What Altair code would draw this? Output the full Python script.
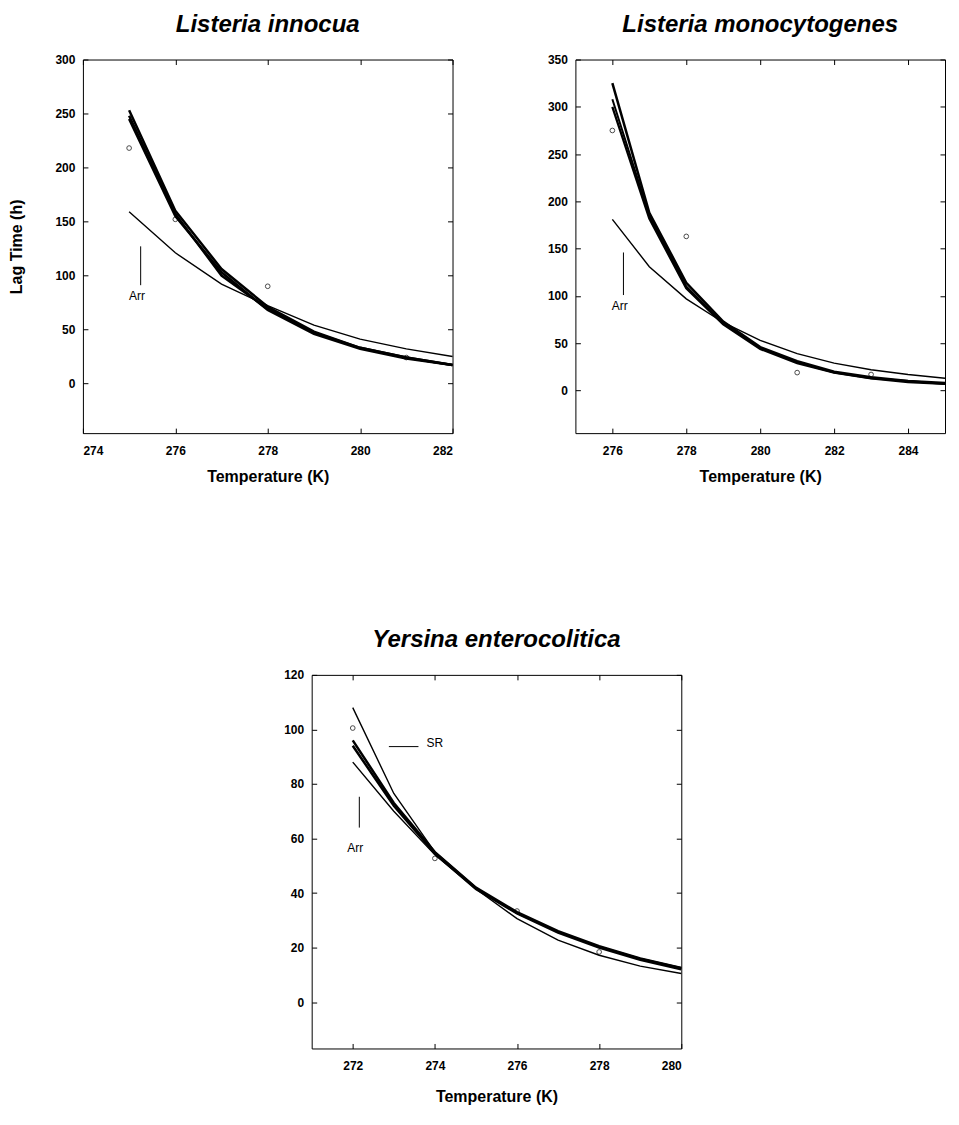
import altair as alt
import pandas as pd

FONT = "Liberation Sans"

# ---------------- Listeria innocua ----------------
LI_T = [275, 276, 277, 278, 279, 280, 281, 282]
LI_M1 = [253, 160, 106, 71, 48, 33, 24, 17]
LI_M2 = [248, 157, 100, 69, 47, 33, 24, 17]
LI_M3 = [245, 155, 103, 68, 46, 32, 23, 17]
LI_ARR = [159, 121, 92, 72, 54, 41, 32, 25]
LI_OBS_T = [275, 276, 278, 281]
LI_OBS = [218, 152, 90, 24]

# ---------------- Listeria monocytogenes ----------------
LM_T = [276, 277, 278, 279, 280, 281, 282, 283, 284, 285]
LM_M1 = [325, 188, 114, 73, 46, 31, 20, 14, 10, 8]
LM_M2 = [308, 185, 110, 71, 45, 30, 19, 13, 10, 7]
LM_M3 = [300, 182, 108, 70, 44, 29, 19, 13, 9, 7]
LM_ARR = [181, 131, 97, 72, 53, 39, 29, 22, 17, 13]
LM_OBS_T = [276, 278, 281, 283]
LM_OBS = [275, 163, 19, 17]

# ---------------- Yersina enterocolitica ----------------
YE_T = [272, 273, 274, 275, 276, 277, 278, 279, 280]
YE_SR = [108, 76.5, 55, 42, 32.5, 25.7, 20.4, 16, 12.6]
YE_M1 = [96, 73, 55, 42, 33, 26, 20.5, 16, 12.5]
YE_M2 = [94, 72, 54.5, 41.5, 32.5, 25.5, 20, 15.5, 12]
YE_ARR = [88, 70, 54, 41.5, 30.6, 22.7, 17.2, 13.2, 10.5]
YE_OBS_T = [272, 274, 276, 278]
YE_OBS = [100.5, 52.7, 33.4, 18.4]


def lines_df(t, series):
    rows = []
    for name, vals, w in series:
        for ti, v in zip(t, vals):
            rows.append({"T": ti, "lag": v, "s": name, "w": w})
    return pd.DataFrame(rows)


def panel(title, ldf, obs_t, obs, xdom, ydom, xticks, yticks, ytitle, rules, texts, xtitle_pad):
    xs = alt.Scale(domain=xdom, nice=False, zero=False)
    ys = alt.Scale(domain=ydom, nice=False, zero=False)
    lab = dict(labelFont=FONT, labelFontSize=12, labelFontWeight="bold", labelColor="black",
               titleFont=FONT, titleFontSize=16, titleFontWeight="bold", titleColor="black",
               domain=False, tickColor="black", tickSize=5, grid=False, offset=-5)
    xaxis = alt.Axis(values=xticks, title="Temperature (K)", titlePadding=xtitle_pad,
                     labelPadding=12, **lab)
    if ytitle:
        yaxis = alt.Axis(values=yticks, title=ytitle, titlePadding=30, labelPadding=8, **lab)
    else:
        yaxis = alt.Axis(values=yticks, title=None, labelPadding=8, **lab)
    base = alt.Chart(ldf).mark_line(color="black").encode(
        x=alt.X("T:Q", scale=xs, axis=xaxis),
        y=alt.Y("lag:Q", scale=ys, axis=yaxis),
        detail="s:N",
        strokeWidth=alt.StrokeWidth("w:Q", scale=None),
    )
    inner = dict(domain=False, labels=False, title=None, tickSize=5, tickColor="black",
                 grid=False, offset=-5)
    pts = alt.Chart(pd.DataFrame({"T": obs_t, "lag": obs})).mark_point(
        shape="circle", filled=False, color="black", size=22, strokeWidth=1
    ).encode(
        x=alt.X("T:Q", scale=xs, axis=alt.Axis(orient="top", values=xticks, **inner)),
        y=alt.Y("lag:Q", scale=ys, axis=alt.Axis(orient="right", values=yticks, **inner)),
    )
    layers = [base, pts]
    if rules:
        rdf = pd.DataFrame(rules, columns=["x1", "y1", "x2", "y2"])
        layers.append(alt.Chart(rdf).mark_rule(color="black", strokeWidth=1).encode(
            x=alt.X("x1:Q", scale=xs, axis=None), y=alt.Y("y1:Q", scale=ys, axis=None),
            x2="x2:Q", y2="y2:Q"))
    if texts:
        tdf = pd.DataFrame(texts, columns=["x", "y", "label"])
        layers.append(alt.Chart(tdf).mark_text(font=FONT, fontSize=12, color="black").encode(
            x=alt.X("x:Q", scale=xs, axis=None), y=alt.Y("y:Q", scale=ys, axis=None),
            text="label:N"))
    return alt.layer(*layers).resolve_axis(x="independent", y="independent").properties(
        width=370, height=374,
        title=alt.TitleParams(title, font=FONT, fontSize=24, fontStyle="italic",
                              fontWeight="bold", color="black", offset=17),
    )


p1 = panel(
    "Listeria innocua",
    lines_df(LI_T, [("m1", LI_M1, 2.5), ("m2", LI_M2, 2.5), ("m3", LI_M3, 2.5), ("arr", LI_ARR, 1.4)]),
    LI_OBS_T, LI_OBS, [274, 282], [-46, 300], [274, 276, 278, 280, 282],
    [0, 50, 100, 150, 200, 250, 300], "Lag Time (h)",
    [(275.25, 127, 275.25, 91)], [(275.17, 81, "Arr")], 12,
)
p2 = panel(
    "Listeria monocytogenes",
    lines_df(LM_T, [("m1", LM_M1, 2.5), ("m2", LM_M2, 2.0), ("m3", LM_M3, 2.3), ("arr", LM_ARR, 1.4)]),
    LM_OBS_T, LM_OBS, [275, 285], [-45, 350], [276, 278, 280, 282, 284],
    [0, 50, 100, 150, 200, 250, 300, 350], None,
    [(276.3, 146, 276.3, 101)], [(276.2, 89, "Arr")], 12,
)
p3 = panel(
    "Yersina enterocolitica",
    lines_df(YE_T, [("sr", YE_SR, 1.4), ("m1", YE_M1, 2.5), ("m2", YE_M2, 2.5), ("arr", YE_ARR, 1.4)]),
    YE_OBS_T, YE_OBS, [271, 280], [-17, 120], [272, 274, 276, 278, 280],
    [0, 20, 40, 60, 80, 100, 120], None,
    [(272.88, 93.7, 273.6, 93.7), (272.16, 75.3, 272.16, 64)],
    [(274.0, 95, "SR"), (272.06, 56.5, "Arr")], 17,
)

spacer = alt.Chart(pd.DataFrame({"a": [0]})).mark_point(opacity=0).encode(
    x=alt.X("a:Q", axis=None), y=alt.Y("a:Q", axis=None)
).properties(width=190, height=10, view=alt.ViewBackground(stroke=None))

top = alt.hconcat(p1, p2, spacing=88)
bottom = alt.hconcat(spacer, p3, spacing=10)
chart = alt.vconcat(top, bottom, spacing=142).configure_view(
    stroke="black", strokeWidth=1
).properties(padding={"top": 3, "left": 0, "right": 0, "bottom": 0})

chart.save("out.html", embed_options={"renderer": "svg", "actions": False})
